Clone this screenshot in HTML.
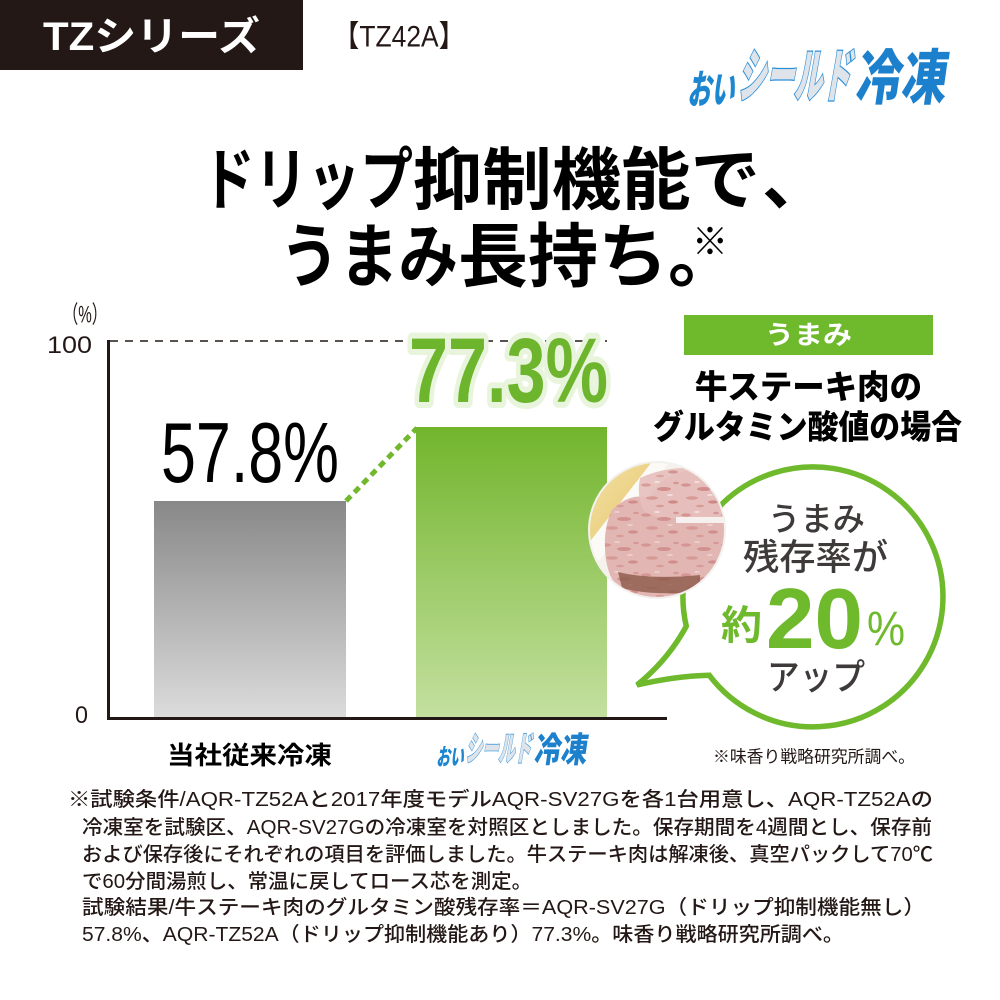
<!DOCTYPE html>
<html><head><meta charset="utf-8">
<style>
html,body{margin:0;padding:0;background:#fff;}
svg{display:block;}
text{font-family:"Liberation Sans","Noto Sans CJK JP",sans-serif;}
</style></head>
<body>
<svg width="1000" height="1000" viewBox="0 0 1000 1000">
<defs>
  <linearGradient id="gGray" x1="0" y1="0" x2="0" y2="1">
    <stop offset="0" stop-color="#888888"/>
    <stop offset="1" stop-color="#dcdcdc"/>
  </linearGradient>
  <linearGradient id="gGreen" x1="0" y1="0" x2="0" y2="1">
    <stop offset="0" stop-color="#72b52c"/>
    <stop offset="1" stop-color="#c4e0a0"/>
  </linearGradient>
  <linearGradient id="gGold" x1="0" y1="0" x2="1" y2="1">
    <stop offset="0" stop-color="#f3e2a6"/>
    <stop offset="1" stop-color="#e6c56c"/>
  </linearGradient>
  <pattern id="marble" width="40" height="30" patternUnits="userSpaceOnUse">
    <rect width="40" height="30" fill="#e6bfbc"/>
    <ellipse cx="6" cy="5" rx="5" ry="1.6" fill="#cf8886" opacity="0.8"/>
    <ellipse cx="24" cy="9" rx="7" ry="2" fill="#c77a78" opacity="0.7"/>
    <ellipse cx="12" cy="18" rx="6" ry="1.8" fill="#d08a88" opacity="0.7"/>
    <ellipse cx="33" cy="22" rx="5" ry="1.6" fill="#c47271" opacity="0.7"/>
    <ellipse cx="20" cy="26" rx="4" ry="1.3" fill="#cd8481" opacity="0.6"/>
    <ellipse cx="36" cy="3" rx="3" ry="1.2" fill="#c97d7c" opacity="0.6"/>
    <ellipse cx="17" cy="2" rx="3" ry="1" fill="#f3e0dd"/>
    <ellipse cx="30" cy="15" rx="3" ry="1" fill="#f3e0dd"/>
  </pattern>
  <clipPath id="photoClip"><circle cx="657" cy="530" r="68"/></clipPath>
</defs>

<!-- Header -->
<rect x="0" y="0" width="303" height="70" fill="#231815"/>
<text x="43" y="37" font-size="40" font-weight="700" fill="#fff" dominant-baseline="central" textLength="217" lengthAdjust="spacingAndGlyphs">TZシリーズ</text>
<text x="333" y="37" font-size="30" fill="#231815" dominant-baseline="central" textLength="132" lengthAdjust="spacingAndGlyphs">【TZ42A】</text>

<!-- Top logo -->
<text transform="translate(713,90) skewX(-10)" text-anchor="middle" font-size="40" font-weight="900" fill="#1c86d1" dominant-baseline="central" textLength="47" lengthAdjust="spacingAndGlyphs">おい</text>
<text transform="translate(797,77) skewX(-10)" text-anchor="middle" font-size="58" font-weight="900" fill="#dfe4ea" stroke="#2b8fd8" stroke-width="2.5" paint-order="stroke" dominant-baseline="central" textLength="113" lengthAdjust="spacingAndGlyphs">シールド</text>
<text transform="translate(903,78) skewX(-8)" text-anchor="middle" font-size="60" font-weight="900" fill="#1c80cc" dominant-baseline="central" textLength="91" lengthAdjust="spacingAndGlyphs">冷凍</text>

<!-- Title -->
<text x="202" y="181" font-size="68" font-weight="700" fill="#000" dominant-baseline="central" textLength="211" lengthAdjust="spacingAndGlyphs">ドリップ</text>
<text x="413" y="181" font-size="68" font-weight="700" fill="#000" dominant-baseline="central" textLength="347" lengthAdjust="spacingAndGlyphs">抑制機能で</text>
<text x="762" y="181" font-size="68" font-weight="700" fill="#000" dominant-baseline="central">、</text>
<text x="280" y="257" font-size="70" font-weight="700" fill="#000" dominant-baseline="central" textLength="178" lengthAdjust="spacingAndGlyphs">うまみ</text>
<text x="458" y="257" font-size="70" font-weight="700" fill="#000" dominant-baseline="central" textLength="280" lengthAdjust="spacingAndGlyphs">長持ち。</text>
<text x="692" y="243" font-size="38" fill="#000" dominant-baseline="central" textLength="36" lengthAdjust="spacingAndGlyphs">※</text>

<!-- Chart axes -->
<text x="63" y="315" font-size="24" fill="#231815" dominant-baseline="central" textLength="44" lengthAdjust="spacingAndGlyphs">（%）</text>
<text x="47" y="353" font-size="24" fill="#231815" textLength="45" lengthAdjust="spacingAndGlyphs">100</text>
<text x="75" y="723" font-size="24" fill="#231815" textLength="13" lengthAdjust="spacingAndGlyphs">0</text>
<line x1="110" y1="341" x2="607" y2="341" stroke="#231815" stroke-width="1.6" stroke-dasharray="8 7"/>

<!-- Bars -->
<rect x="154" y="501" width="192" height="217" fill="url(#gGray)"/>
<rect x="416" y="427" width="191" height="291" fill="url(#gGreen)"/>
<line x1="108.5" y1="340" x2="108.5" y2="720" stroke="#231815" stroke-width="3"/>
<line x1="107" y1="718.5" x2="667" y2="718.5" stroke="#231815" stroke-width="3"/>

<line x1="346" y1="501" x2="417" y2="428" stroke="#72b82c" stroke-width="5" stroke-dasharray="7 5"/>

<text x="161" y="482" font-size="85" fill="#000" textLength="178" lengthAdjust="spacingAndGlyphs">57.8%</text>
<text x="409" y="402" font-size="92" font-weight="700" fill="#6db52d" stroke="#e9f4dd" stroke-width="12" stroke-linejoin="round" paint-order="stroke" textLength="199" lengthAdjust="spacingAndGlyphs">77.3%</text>

<!-- Labels under axis -->
<text x="167" y="756" font-size="25" font-weight="700" fill="#000" dominant-baseline="central" textLength="165" lengthAdjust="spacingAndGlyphs">当社従来冷凍</text>
<g transform="translate(37,705) scale(0.581)">
<text transform="translate(713,90) skewX(-10)" text-anchor="middle" font-size="40" font-weight="900" fill="#1c86d1" dominant-baseline="central" textLength="47" lengthAdjust="spacingAndGlyphs">おい</text>
<text transform="translate(797,77) skewX(-10)" text-anchor="middle" font-size="58" font-weight="900" fill="#dfe4ea" stroke="#2b8fd8" stroke-width="2.5" paint-order="stroke" dominant-baseline="central" textLength="113" lengthAdjust="spacingAndGlyphs">シールド</text>
<text transform="translate(903,78) skewX(-8)" text-anchor="middle" font-size="60" font-weight="900" fill="#1c80cc" dominant-baseline="central" textLength="91" lengthAdjust="spacingAndGlyphs">冷凍</text>
</g>

<!-- Right side heading -->
<rect x="684" y="315" width="249" height="40" fill="#6fb92c"/>
<text x="765" y="335" font-size="26" font-weight="700" fill="#fff" dominant-baseline="central" textLength="87" lengthAdjust="spacingAndGlyphs">うまみ</text>
<text x="695" y="387" font-size="33" font-weight="900" fill="#000" dominant-baseline="central" textLength="227" lengthAdjust="spacingAndGlyphs">牛ステーキ肉の</text>
<text x="653" y="427" font-size="33" font-weight="900" fill="#000" dominant-baseline="central" textLength="309" lengthAdjust="spacingAndGlyphs">グルタミン酸値の場合</text>

<!-- Speech bubble -->
<path d="M686.3 626.2 A130 130 0 1 1 709.2 675.2 Q675 676 637 685 Q668 660 686.3 626.2 Z" fill="#fff" stroke="#6fb92c" stroke-width="5.5" stroke-linejoin="miter"/>

<!-- Meat photo -->
<g clip-path="url(#photoClip)">
  <rect x="585" y="458" width="146" height="146" fill="#f5f2ed"/>
  <polygon points="585,458 655,458 585,548" fill="url(#gGold)"/>
  <polygon points="655,458 672,458 600,560 585,560 585,548" fill="#fbfaf7"/>
  <path d="M612 510 Q630 492 650 498 Q660 475 690 470 Q715 466 730 478 L730 600 L630 600 Q610 585 606 560 Q602 530 612 510 Z" fill="url(#marble)"/>
  <path d="M612 510 Q630 492 650 498 Q660 475 690 470 Q715 466 730 478 L730 600 L630 600 Q610 585 606 560 Q602 530 612 510 Z" fill="#d99a98" opacity="0.25"/>
  <path d="M640 478 Q665 466 700 468 Q725 470 730 482 L730 518 L676 518 Q660 520 645 512 Q636 498 640 478 Z" fill="url(#marble)" opacity="0.9"/>
  <rect x="676" y="517" width="54" height="6" fill="#f6f1ef"/>
  <path d="M618 572 Q650 580 700 575 L700 592 Q650 596 622 588 Z" fill="#8c5a48" opacity="0.8"/>
</g>
<circle cx="657" cy="530" r="68" fill="none" stroke="#f3f1ee" stroke-width="2"/>

<!-- Bubble text -->
<text x="768" y="519" font-size="33" font-weight="500" fill="#3e3a39" dominant-baseline="central" textLength="97" lengthAdjust="spacingAndGlyphs">うまみ</text>
<text x="743" y="557" font-size="36" font-weight="500" fill="#3e3a39" dominant-baseline="central" textLength="145" lengthAdjust="spacingAndGlyphs">残存率が</text>
<text x="721" y="626" font-size="40" font-weight="700" fill="#6fb92c" dominant-baseline="central" textLength="41" lengthAdjust="spacingAndGlyphs">約</text>
<text x="766" y="648" font-size="85" font-weight="700" fill="#6fb92c" textLength="97" lengthAdjust="spacingAndGlyphs">20</text>
<text x="867" y="645" font-size="48" fill="#6fb92c" textLength="38" lengthAdjust="spacingAndGlyphs">%</text>
<text x="767" y="677" font-size="36" font-weight="500" fill="#3e3a39" dominant-baseline="central" textLength="98" lengthAdjust="spacingAndGlyphs">アップ</text>

<text x="713" y="757" font-size="17" fill="#231815" dominant-baseline="central" textLength="202" lengthAdjust="spacingAndGlyphs">※味香り戦略研究所調べ。</text>

<!-- Footnotes -->
<g font-size="20" font-weight="500" fill="#231815" dominant-baseline="central">
<text x="68" y="800" textLength="865" lengthAdjust="spacingAndGlyphs">※試験条件/AQR-TZ52Aと2017年度モデルAQR-SV27Gを各1台用意し、AQR-TZ52Aの</text>
<text x="82" y="828" textLength="850" lengthAdjust="spacingAndGlyphs">冷凍室を試験区、AQR-SV27Gの冷凍室を対照区としました。保存期間を4週間とし、保存前</text>
<text x="82" y="855" textLength="851" lengthAdjust="spacingAndGlyphs">および保存後にそれぞれの項目を評価しました。牛ステーキ肉は解凍後、真空パックして70℃</text>
<text x="82" y="882" textLength="450" lengthAdjust="spacingAndGlyphs">で60分間湯煎し、常温に戻してロース芯を測定。</text>
<text x="82" y="908" textLength="843" lengthAdjust="spacingAndGlyphs">試験結果/牛ステーキ肉のグルタミン酸残存率＝AQR-SV27G（ドリップ抑制機能無し）</text>
<text x="82" y="935" textLength="762" lengthAdjust="spacingAndGlyphs">57.8%、AQR-TZ52A（ドリップ抑制機能あり）77.3%。味香り戦略研究所調べ。</text>
</g>
</svg>
</body></html>
